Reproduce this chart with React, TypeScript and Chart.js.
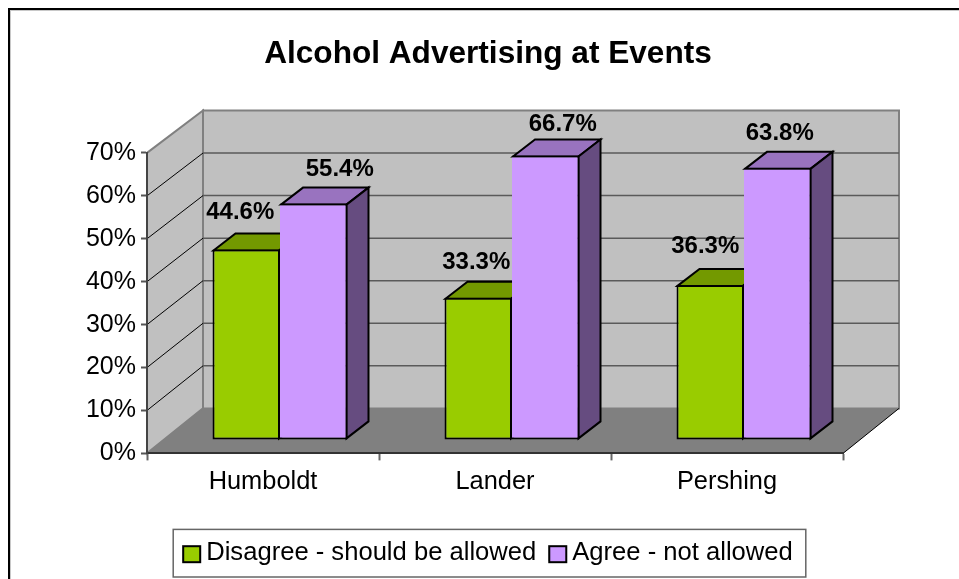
import React, { useEffect, useRef } from "react";
import { Chart, registerables } from "chart.js";

Chart.register(...registerables);

const titleText = "Alcohol Advertising at Events";
const categories = ["Humboldt", "Lander", "Pershing"];
const disagree = [44.6, 33.3, 36.3];
const agree = [55.4, 66.7, 63.8];
const seriesNames = ["Disagree - should be allowed", "Agree - not allowed"];

const FONT = "'Liberation Sans', Arial, sans-serif";
const WALL_DX = 56;
const WALL_DY = 45;
const BAR_DX = 17;
const BAR_DY = 14;
const DEPTH_X = 22;
const DEPTH_Y = 17;
const LEGEND_BOX_SHIFT = 2;
const faces = [
  { front: "#99CC00", top: "#739900", side: "#4D6600" },
  { front: "#CC99FF", top: "#9973BF", side: "#664C80" },
];
// hand-placed label nudges from the bar's front-top centre (dataset, then category)
const labelNudgeX = [[-6, -2, -5], [26, 17, 2]];
const labelNudgeY = [[-37, -35, -39], [-34, -31, -34]];

const box3d = {
  id: "box3d",
  beforeDraw(chart: any) {
    const { ctx, scales } = chart;
    const y = scales.y;
    const back = scales.yBar;
    const x = scales.x;
    const L = x.left, R = x.right;
    const y0 = y.getPixelForValue(0);
    const backY = (v: number) => back.getPixelForValue(v) - WALL_DY;
    ctx.save();
    // frame
    ctx.fillStyle = "#000";
    ctx.fillRect(8, 8, 951, 2);
    ctx.fillRect(8, 8, 2, 571);
    ctx.fillStyle = "#C8C8C8";
    ctx.fillRect(10, 10, 949, 1);
    ctx.fillRect(10, 10, 1, 569);

    // walls
    ctx.fillStyle = "#C0C0C0";
    ctx.strokeStyle = "#808080";
    ctx.lineWidth = 2;
    ctx.beginPath();
    ctx.rect(L + WALL_DX, backY(70), R - L, backY(0) - backY(70));
    ctx.fill();
    ctx.stroke();
    ctx.beginPath();
    ctx.moveTo(L, y.getPixelForValue(70));
    ctx.lineTo(L + WALL_DX, backY(70));
    ctx.lineTo(L + WALL_DX, backY(0));
    ctx.lineTo(L, y0);
    ctx.closePath();
    ctx.fill();
    ctx.stroke();
    // floor
    ctx.fillStyle = "#808080";
    ctx.beginPath();
    ctx.moveTo(L, y0);
    ctx.lineTo(R, y0);
    ctx.lineTo(R + WALL_DX, backY(0));
    ctx.lineTo(L + WALL_DX, backY(0));
    ctx.closePath();
    ctx.fill();
    ctx.strokeStyle = "#000";
    ctx.lineWidth = 1;
    ctx.beginPath();
    ctx.moveTo(R, y0);
    ctx.lineTo(R + WALL_DX, backY(0));
    ctx.stroke();
    // gridlines
    for (const t of y.ticks) {
      const v = t.value;
      if (v === 0) continue;
      if (v < 70) {
        ctx.strokeStyle = "#5A5A5A";
        ctx.lineWidth = 1.5;
        ctx.beginPath();
        ctx.moveTo(L + WALL_DX, backY(v));
        ctx.lineTo(R + WALL_DX, backY(v));
        ctx.stroke();
        ctx.strokeStyle = "#000";
        ctx.lineWidth = 1;
        ctx.beginPath();
        ctx.moveTo(L, y.getPixelForValue(v));
        ctx.lineTo(L + WALL_DX, backY(v));
        ctx.stroke();
      }
    }
    ctx.restore();
  },
  beforeDatasetsDraw(chart: any) {
    const { ctx } = chart;
    ctx.save();
    ctx.translate(BAR_DX, -BAR_DY);
    ctx.strokeStyle = "#000";
    ctx.lineWidth = 2;
    ctx.lineJoin = "miter";
    chart.data.datasets.forEach((_: any, di: number) => {
      chart.getDatasetMeta(di).data.forEach((bar: any) => {
        const l = bar.x - bar.width / 2, r = bar.x + bar.width / 2;
        const t = bar.y + 1, b = bar.base - 1;
        ctx.fillStyle = faces[di].top;
        ctx.beginPath();
        ctx.moveTo(l + 1, t);
        ctx.lineTo(l + 1 + DEPTH_X, t - DEPTH_Y);
        ctx.lineTo(r - 1 + DEPTH_X, t - DEPTH_Y);
        ctx.lineTo(r - 1, t);
        ctx.closePath();
        ctx.fill();
        ctx.stroke();
        ctx.fillStyle = faces[di].side;
        ctx.beginPath();
        ctx.moveTo(r - 1, t);
        ctx.lineTo(r - 1 + DEPTH_X, t - DEPTH_Y);
        ctx.lineTo(r - 1 + DEPTH_X, b - DEPTH_Y);
        ctx.lineTo(r - 1, b);
        ctx.closePath();
        ctx.fill();
        ctx.stroke();
      });
    });
  },
  afterDatasetsDraw(chart: any) {
    const { ctx } = chart;
    ctx.restore();
    ctx.save();
    ctx.font = `bold 24px ${FONT}`;
    ctx.fillStyle = "#000";
    ctx.textAlign = "center";
    ctx.textBaseline = "middle";
    chart.data.datasets.forEach((ds: any, di: number) => {
      chart.getDatasetMeta(di).data.forEach((bar: any, i: number) => {
        ctx.fillText(
          ds.data[i].toFixed(1) + "%",
          bar.x + BAR_DX + labelNudgeX[di][i],
          bar.y - BAR_DY + labelNudgeY[di][i]
        );
      });
    });
    ctx.restore();
  },
  afterDraw(chart: any) {
    const { ctx, legend } = chart;
    const boxes = legend.legendHitBoxes;
    if (!boxes || !boxes.length) return;
    ctx.save();
    const first = boxes[0];
    const last = boxes[boxes.length - 1];
    const left = first.left - 10;
    const right = last.left + last.width + 13;
    ctx.strokeStyle = "#666";
    ctx.lineWidth = 1.5;
    ctx.strokeRect(left, legend.top + LEGEND_BOX_SHIFT, right - left, legend.height - 1);
    boxes.forEach((h: any, i: number) => {
      const cy = h.top + h.height / 2 + 1;
      ctx.fillStyle = "#FFF";
      ctx.fillRect(h.left - 1, cy - 10, 19, 20);
      ctx.fillStyle = faces[i].front;
      ctx.strokeStyle = "#000";
      ctx.lineWidth = 2;
      ctx.fillRect(h.left, cy - 8, 17, 16);
      ctx.strokeRect(h.left, cy - 8, 17, 16);
    });
    ctx.restore();
  },
};

export default function App() {
  const ref = useRef<HTMLCanvasElement>(null);
  useEffect(() => {
    const chart = new Chart(ref.current!, {
      type: "bar",
      data: {
        labels: categories,
        datasets: [
          {
            label: seriesNames[0],
            data: disagree,
            backgroundColor: faces[0].front,
            borderColor: "#000",
            borderWidth: 2,
            borderSkipped: false,
            yAxisID: "yBar",
            clip: false,
          },
          {
            label: seriesNames[1],
            data: agree,
            backgroundColor: faces[1].front,
            borderColor: "#000",
            borderWidth: 2,
            borderSkipped: "left",
            yAxisID: "yBar",
            clip: false,
          },
        ] as any,
      },
      options: {
        animation: false,
        responsive: false,
        devicePixelRatio: 1,
        categoryPercentage: 135 / 232,
        barPercentage: 1,
        layout: { padding: { left: 17, right: 0, top: 0, bottom: 1 + LEGEND_BOX_SHIFT } },
        plugins: {
          tooltip: { enabled: false },
          title: {
            display: true,
            text: titleText,
            color: "#000",
            font: { family: FONT, size: 31.6, weight: "bold" },
            padding: { top: 35, bottom: 80 },
          },
          legend: {
            display: true,
            position: "bottom",
            labels: {
              color: "#000",
              font: { family: FONT, size: 25.6 },
              boxWidth: 10.2,
              boxHeight: 14,
              padding: 13,
            },
          },
        },
        scales: {
          x: {
            type: "category",
            offset: true,
            afterFit: (s: any) => { s.height = 76 - LEGEND_BOX_SHIFT; },
            border: { display: true, color: "#333", width: 2 },
            grid: {
              offset: true,
              drawOnChartArea: false,
              drawTicks: true,
              tickLength: 7,
              tickColor: "#666",
              tickWidth: 2,
            },
            ticks: {
              color: "#000",
              font: { family: FONT, size: 25.4 },
              padding: 6,
              maxRotation: 0,
              autoSkip: false,
            },
          },
          y: {
            type: "linear",
            axis: "y",
            position: "left",
            min: 0,
            max: 70,
            afterFit: (s: any) => { s.width = 130; },
            border: { display: true, color: "#444", width: 2 },
            grid: {
              drawOnChartArea: false,
              drawTicks: true,
              tickLength: 6,
              tickColor: "#555",
              tickWidth: 2,
            },
            ticks: {
              stepSize: 10,
              color: "#000",
              padding: 5,
              font: { family: FONT, size: 25 },
              callback: (v: any) => v + "%",
            },
          },
          yBar: {
            type: "linear",
            axis: "y",
            position: "right",
            min: 0,
            max: 70.6,
            afterFit: (s: any) => { s.width = 116; },
            border: { display: false },
            grid: { display: false },
            ticks: { display: false },
          },
        },
      } as any,
      plugins: [box3d],
    });
    return () => chart.destroy();
  }, []);
  return (
    <canvas
      ref={ref}
      width={959}
      height={579}
      style={{ position: "fixed", left: 0, top: 0, display: "block" }}
    />
  );
}
